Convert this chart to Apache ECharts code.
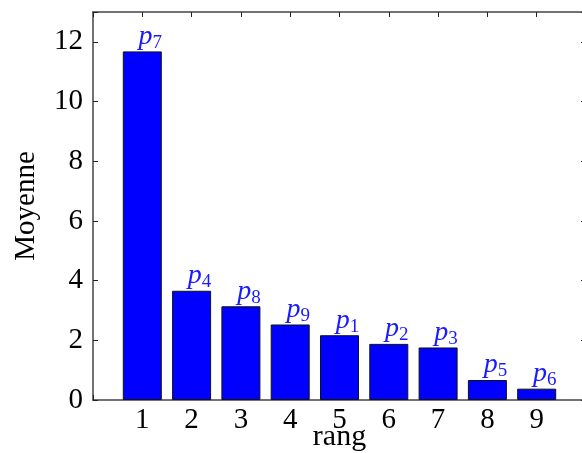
<!DOCTYPE html>
<html>
<head>
<meta charset="utf-8">
<script src="https://cdn.jsdelivr.net/npm/echarts@6/dist/echarts.min.js"></script>
<style>
  html, body { margin: 0; padding: 0; background: #fff; }
  #chart { width: 582px; height: 453px; }
</style>
</head>
<body>
<div id="chart"></div>
<script>
// rang (x) et moyenne (y)
var rangs = [1, 2, 3, 4, 5, 6, 7, 8, 9];
var moyennes = [11.68, 3.66, 3.14, 2.53, 2.17, 1.88, 1.76, 0.67, 0.38];
var indices = ['7', '4', '8', '9', '1', '2', '3', '5', '6'];

var serif = 'Liberation Serif';
var chart = echarts.init(document.getElementById('chart'));

var data = rangs.map(function (r, i) {
    return { value: [r, moyennes[i]], idx: indices[i] };
});

var tickStyle = { inside: true, length: 5, lineStyle: { color: '#222', width: 1 } };
var lineStyle = { onZero: false, lineStyle: { color: '#444', width: 1.5 } };

var option = {
    animation: false,
    grid: { left: 93, right: -4, top: 12, bottom: 53, outerBoundsMode: 'none', containLabel: false },
    xAxis: [{
        type: 'value',
        min: 0, max: 10, interval: 1,
        name: 'rang',
        nameLocation: 'middle',
        nameGap: 22,
        nameMoveOverlap: false,
        nameTextStyle: { fontFamily: serif, fontSize: 30, color: '#000' },
        axisLine: lineStyle,
        axisTick: tickStyle,
        splitLine: { show: false },
        axisLabel: {
            margin: 6,
            fontFamily: serif, fontSize: 29, color: '#000',
            formatter: function (v) { return (v >= 1 && v <= 9) ? String(v) : ''; }
        }
    }, {
        type: 'value', position: 'top',
        min: 0, max: 10, interval: 1,
        axisLine: lineStyle,
        axisTick: tickStyle,
        axisLabel: { show: false },
        splitLine: { show: false }
    }],
    yAxis: [{
        type: 'value',
        min: 0, max: 13, interval: 2,
        name: 'Moyenne',
        nameLocation: 'middle',
        nameGap: 52,
        nameMoveOverlap: false,
        nameTextStyle: { fontFamily: serif, fontSize: 29, color: '#000' },
        axisLine: lineStyle,
        axisTick: tickStyle,
        splitLine: { show: false },
        axisLabel: {
            margin: 10,
            fontFamily: serif, fontSize: 29, color: '#000',
            formatter: function (v) { return v % 2 === 0 ? String(v) : ''; }
        }
    }, {
        type: 'value', position: 'right',
        min: 0, max: 13, interval: 2,
        axisLine: lineStyle,
        axisTick: tickStyle,
        axisLabel: { show: false },
        splitLine: { show: false }
    }],
    series: [{
        type: 'bar',
        data: data,
        barWidth: 39,
        itemStyle: { color: '#0000ff', borderColor: '#111', borderWidth: 1 },
        label: {
            show: true,
            position: 'top',
            distance: 1,
            offset: [8, 0],
            formatter: function (p) { return '{p|p}{s|' + p.data.idx + '}'; },
            rich: {
                p: { fontFamily: serif, fontStyle: 'italic', fontSize: 28, color: '#1a1aff', verticalAlign: 'bottom' },
                s: { fontFamily: serif, fontSize: 19, color: '#1a1aff', verticalAlign: 'bottom', padding: [0, 0, -2, 0] }
            }
        }
    }]
};

chart.setOption(option);
</script>
</body>
</html>
